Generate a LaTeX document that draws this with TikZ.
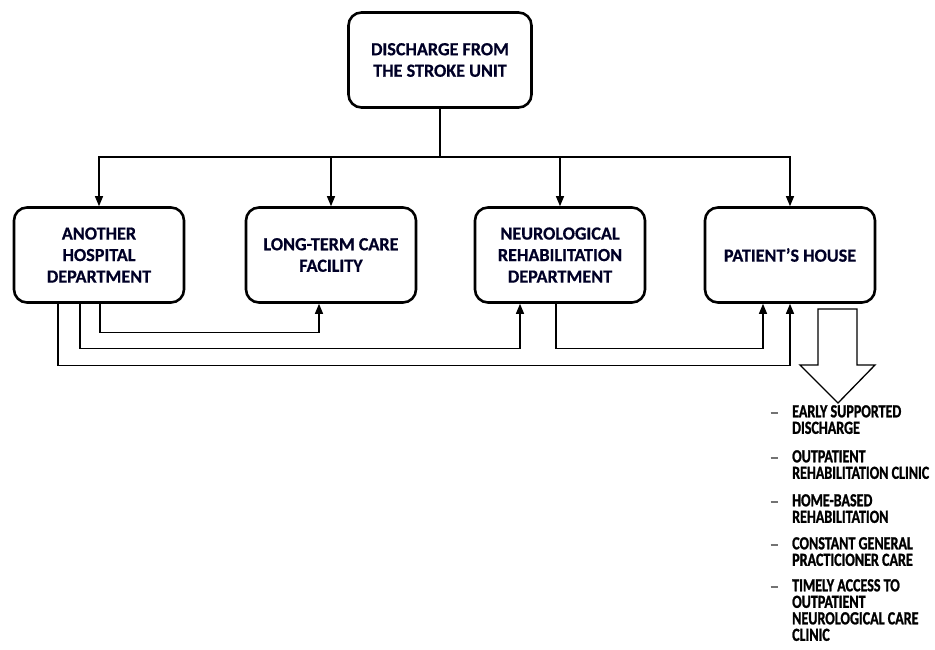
\documentclass[tikz,border=0pt]{standalone}
\usepackage{fontspec}
\setmainfont{Carlito}
\newfontfamily\boxfont[FakeStretch=0.98,FakeBold=0.6]{Carlito}
\newfontfamily\listfont[FakeStretch=0.76,FakeBold=1.2]{Carlito}
\usetikzlibrary{arrows.meta,positioning}
\tikzset{
  box/.style={draw, line width=2.6pt, rounded corners=13pt, minimum width=170pt, minimum height=95pt,
    align=center, font=\boxfont\fontsize{18.5}{21.5}\selectfont\bfseries, text=black!85!blue},
  conn/.style={line width=1.3pt},
  arr/.style={conn, -{Triangle[width=8pt,length=10pt]}},
  item/.style={anchor=north west, align=left, inner sep=0pt,
    font=\listfont\fontsize{18.5}{16.5}\selectfont\bfseries},
  dashmark/.style={inner sep=0pt, text=black!55}
}
\newcommand{\listdash}{\rule{7pt}{1.6pt}}
\begin{document}
\begin{tikzpicture}[x=1pt,y=-1pt]
\useasboundingbox (0,0) rectangle (935,650);
\node[box, minimum width=183pt, minimum height=95pt] (top) at (440,60) {DISCHARGE FROM\\THE STROKE UNIT};
\node[box] (b1) at (99,255) {ANOTHER\\HOSPITAL\\DEPARTMENT};
\node[box] (b2) at (331,255) {LONG-TERM CARE\\FACILITY};
\node[box] (b3) at (560,255) {NEUROLOGICAL\\REHABILITATION\\DEPARTMENT};
\node[box] (b4) at (790,255) {PATIENT’S HOUSE};

\coordinate (split) at (440,157);
\draw[conn] (top.south) -- (split);
\draw[arr] (split) -| (b1.north);
\draw[arr] (split) -| (b2.north);
\draw[arr] (split) -| (b3.north);
\draw[arr] (split) -| (b4.north);

\draw[arr] ([xshift=1pt]b1.south) -- ++(0,29) -| ([xshift=-12pt]b2.south);
\draw[arr] ([xshift=-19pt]b1.south) -- ++(0,45) -| ([xshift=-40pt]b3.south);
\draw[arr] ([xshift=-41pt]b1.south) -- ++(0,62) -| (b4.south);
\draw[arr] ([xshift=-4pt]b3.south) -- ++(0,45) -| ([xshift=-27pt]b4.south);

% hollow downward arrow
\coordinate (ha) at (818,309);
\draw[conn, line join=miter] (ha) -- (818,365) -- (800,365) -- (838,403) -- (875,365) -- (857,365) -- (857,309) -- cycle;

% list
\node[dashmark] (d1) at (774,413) {\listdash};
\node[dashmark] (d2) at (774,458) {\listdash};
\node[dashmark] (d3) at (774,502) {\listdash};
\node[dashmark] (d4) at (774,545) {\listdash};
\node[dashmark] (d5) at (774,587) {\listdash};
\node[item] (i1) at (792,405) {EARLY SUPPORTED\\DISCHARGE};
\node[item] (i2) at (792,450) {OUTPATIENT\\REHABILITATION CLINIC};
\node[item] (i3) at (792,494) {HOME-BASED\\REHABILITATION};
\node[item] (i4) at (792,537) {CONSTANT GENERAL\\PRACTICIONER CARE};
\node[item] (i5) at (792,579) {TIMELY ACCESS TO\\OUTPATIENT\\NEUROLOGICAL CARE\\CLINIC};
\end{tikzpicture}
\end{document}
